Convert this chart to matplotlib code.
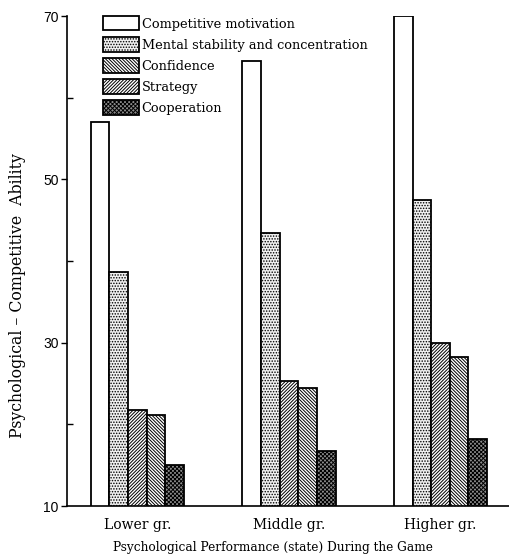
import matplotlib
matplotlib.use("Agg")
import matplotlib.pyplot as plt
import numpy as np
from matplotlib.patches import Patch

groups = ["Lower gr.", "Middle gr.", "Higher gr."]
series = ["Competitive motivation", "Mental stability and concentration",
          "Confidence", "Strategy", "Cooperation"]
competitive = [57.0, 64.5, 70.0]
mental = [38.7, 43.4, 47.5]
confidence = [21.8, 25.3, 29.9]
strategy = [21.2, 24.5, 28.3]
cooperation = [15.0, 16.7, 18.2]
values = [competitive, mental, confidence, strategy, cooperation]

yticks_major = [10, 30, 50, 70]
yticks_minor = [20, 40, 60]

plt.rcParams['hatch.linewidth'] = 0.7
serif = ['DejaVu Serif']

fig = plt.figure(figsize=(5.10, 5.56), dpi=100)
ax = fig.add_axes([67/510, 1-506/556, 1-67/510, (506-16)/556])

bar_hatch = ['', '......', '/' * 10, '\\' * 10, 'x' * 8]
bar_face = ['white', '#f0f0f0', 'white', 'white', '#8c8c8c']
legend_hatch = ['', '......', '\\' * 10, '/' * 10, 'x' * 8]

w = 0.123
x = np.arange(len(groups))
for i, vals in enumerate(values):
    ax.bar(x + (i - 2) * w, vals, width=w, bottom=0, color=bar_face[i],
           edgecolor='black', linewidth=1.3, hatch=bar_hatch[i], zorder=2)

ax.set_ylim(10, 70)
ax.set_xlim(-(137.3-67)/151.6, (510-137.3)/151.6)
ax.set_yticks(yticks_major)
ax.set_yticklabels([str(v) for v in yticks_major], fontsize=10,
                   family='Liberation Sans')
ax.set_yticks(yticks_minor, minor=True)
ax.tick_params(axis='y', which='major', direction='out', length=4, width=1, pad=2)
ax.tick_params(axis='y', which='minor', direction='in', length=4, width=1)
ax.set_xticks(x)
ax.set_xticklabels(groups, fontsize=10, family=serif)
ax.tick_params(axis='x', length=0, pad=9)

for s in ['top', 'right']:
    ax.spines[s].set_visible(False)
ax.spines['left'].set_linewidth(1.2)
ax.spines['bottom'].set_linewidth(1.2)

fig.text(18/510, 1-296/556, "Psychological – Competitive  Ability",
         rotation=90, ha='center', va='center', fontsize=11.3, family=serif)
fig.text(273/510, 1-547/556, "Psychological Performance (state) During the Game",
         ha='center', va='center', fontsize=8.7, family=serif)

handles = [Patch(facecolor=bar_face[i], edgecolor='black', linewidth=1.3,
                 hatch=legend_hatch[i]) for i in range(5)]
ax.legend(handles, series, loc='upper left',
          bbox_to_anchor=(103/510, 1-16/556), bbox_transform=fig.transFigure,
          frameon=False, borderpad=0, borderaxespad=0,
          handlelength=2.75, handleheight=1.35, handletextpad=0.25,
          labelspacing=0.5, prop={'family': serif, 'size': 9.3})

fig.savefig("out.png", dpi=100)
